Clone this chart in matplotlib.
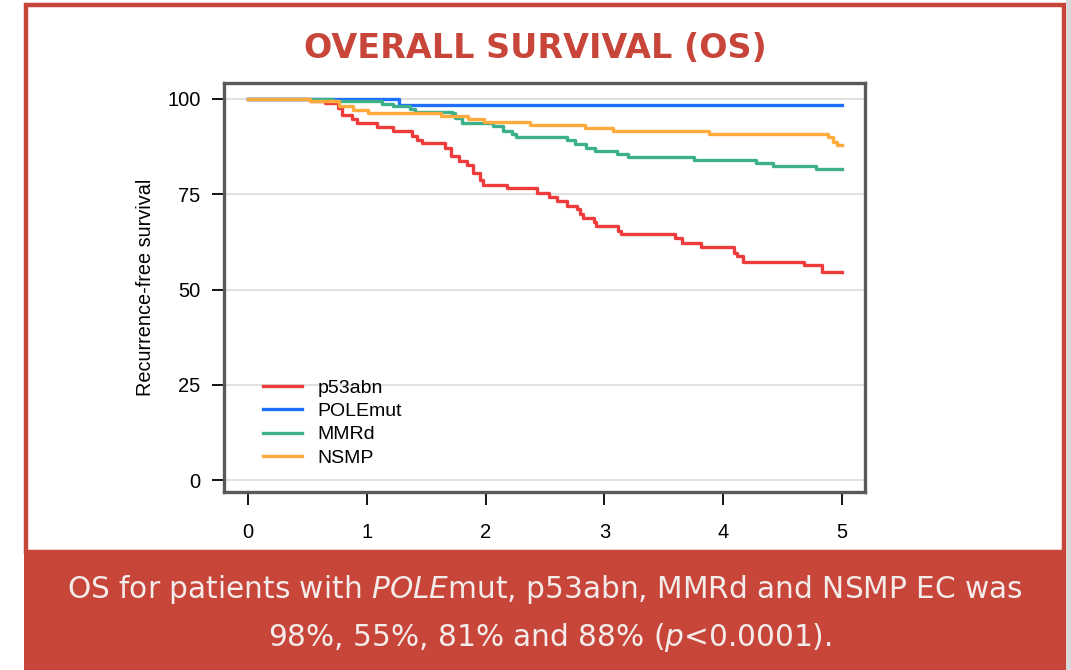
import matplotlib
matplotlib.use("Agg")
import matplotlib.pyplot as plt
from matplotlib.patches import Rectangle

# ---- data ----
p53_t = [0, 0.52, 0.648, 0.760, 0.789, 0.873, 0.915, 1.083, 1.218, 1.378, 1.42, 1.462,
         1.658, 1.706, 1.779, 1.846, 1.896, 1.953, 1.98, 2.178, 2.433, 2.534, 2.598,
         2.683, 2.767, 2.795, 2.822, 2.912, 2.933, 3.117, 3.137, 3.594, 3.651, 3.811,
         4.091, 4.119, 4.164, 4.68, 4.834, 5.0]
p53_s = [100, 99.5, 98.9, 97.6, 95.8, 94.7, 93.6, 92.6, 91.6, 90.4, 89.2, 88.4,
         87.1, 85.0, 83.8, 82.7, 80.7, 78.7, 77.4, 76.6, 75.2, 74.2, 73.1,
         72.0, 71.0, 69.7, 68.8, 67.6, 66.7, 65.4, 64.5, 63.4, 62.1, 61.1,
         59.7, 58.7, 57.3, 56.4, 54.7, 54.7]

pole_t = [0, 1.27, 5.0]
pole_s = [100, 98.4, 98.4]

mmr_t = [0, 0.716, 1.125, 1.218, 1.364, 1.406, 1.715, 1.742, 1.799, 2.065, 2.15, 2.22,
         2.26, 2.685, 2.75, 2.845, 2.92, 3.106, 3.2, 3.754, 4.276, 4.419, 4.781, 5.0]
mmr_s = [100, 99.5, 98.6, 98.2, 97.3, 96.7, 96.2, 94.9, 93.8, 92.9, 91.6, 90.7,
         89.9, 89.2, 88.1, 87.2, 86.4, 85.6, 84.7, 84.0, 83.1, 82.4, 81.5, 81.5]

nsmp_t = [0, 0.522, 0.762, 0.884, 1.013, 1.625, 1.848, 1.987, 2.374, 2.837, 3.075,
          3.883, 4.882, 4.927, 4.955, 5.0]
nsmp_s = [100, 99.5, 98.1, 97.1, 96.2, 95.5, 94.7, 93.9, 93.2, 92.3, 91.5,
          90.8, 89.9, 88.8, 87.9, 87.9]

labels = ["p53abn", "POLEmut", "MMRd", "NSMP"]
colors = ["#EE3B3B", "#1E6EFF", "#3CB08A", "#FFAA3C"]
x_ticks = [0, 1, 2, 3, 4, 5]
y_ticks = [0, 25, 50, 75, 100]

title = "OVERALL SURVIVAL (OS)"
caption1 = r"OS for patients with $\mathit{POLE}$mut, p53abn, MMRd and NSMP EC was"
caption2 = r"98%, 55%, 81% and 88% ($\mathit{p}$<0.0001)."
ylabel = "Recurrence-free survival"

RED = "#C8453A"

plt.rcParams['mathtext.fontset'] = 'custom'
plt.rcParams['mathtext.it'] = 'DejaVu Sans:italic'
plt.rcParams['mathtext.rm'] = 'DejaVu Sans'

W, H = 1071, 670
fig = plt.figure(figsize=(W / 100, H / 100), dpi=100)
fig.patch.set_facecolor("white")

def fx(px):
    return px / W

def fy(py):
    return 1 - py / H

# outer red frame and bottom band
fig.patches.append(Rectangle((fx(26), fy(552)), fx(1064) - fx(26), fy(5) - fy(552),
                             transform=fig.transFigure, fill=False, edgecolor=RED,
                             linewidth=3.2, zorder=0))
fig.patches.append(Rectangle((fx(24), 0), fx(1066) - fx(24), fy(550),
                             transform=fig.transFigure, facecolor=RED, edgecolor="none",
                             zorder=0))
fig.patches.append(Rectangle((fx(1066), 0), 1 - fx(1066), 1,
                             transform=fig.transFigure, facecolor="#D9D9D9", edgecolor="none",
                             zorder=0))

fig.text(fx(535), fy(49), title, ha="center", va="center", color=RED,
         fontsize=24, fontweight="bold", family="DejaVu Sans")
fig.text(fx(545), fy(590), caption1, ha="center", va="center", color="#F4ECEA",
         fontsize=21.3, family="DejaVu Sans")
fig.text(fx(550), fy(637), caption2, ha="center", va="center", color="#F4ECEA",
         fontsize=21.3, family="DejaVu Sans")

# axes
L, R, T, B = 224, 865, 83, 492
ax = fig.add_axes([fx(L), fy(B), fx(R) - fx(L), fy(T) - fy(B)])
x0px, x5px = 248, 842
ux = (x5px - x0px) / 5
ax.set_xlim((L - x0px) / ux, 5 + (R - x5px) / ux)
y100, y0 = 99, 480
uy = (y0 - y100) / 100
ax.set_ylim(-(B - y0) / uy, 100 + (y100 - T) / uy)

for y in y_ticks:
    ax.axhline(y, color="#DCDCDC", linewidth=1.2, zorder=1)

series = [(p53_t, p53_s), (pole_t, pole_s), (mmr_t, mmr_s), (nsmp_t, nsmp_s)]
for (t, s), lab, c in zip(series, labels, colors):
    ax.step(t, s, where="post", color=c, linewidth=2.4, label=lab, zorder=3)

for sp in ax.spines.values():
    sp.set_color("#5A5A5A")
    sp.set_linewidth(2.4)

ax.set_xticks(x_ticks)
ax.set_yticks(y_ticks)
ax.tick_params(axis="both", length=9, width=1.3, color="black",
               labelsize=14.5, direction="out")
ax.tick_params(axis="x", pad=13)
ax.tick_params(axis="y", pad=8)
for lbl in ax.get_xticklabels() + ax.get_yticklabels():
    lbl.set_family("Liberation Sans")

ax.set_ylabel(ylabel, fontsize=14.3, family="Liberation Sans", labelpad=9)

leg = ax.legend(loc="upper left", bbox_to_anchor=((263 - L) / (R - L), (B - 379) / (B - T)),
                frameon=False, handlelength=2.0, handletextpad=0.8,
                labelspacing=0.3, borderpad=0, borderaxespad=0,
                prop={"family": "Liberation Sans", "size": 14})

fig.savefig("out.png", dpi=100, facecolor=fig.get_facecolor())
